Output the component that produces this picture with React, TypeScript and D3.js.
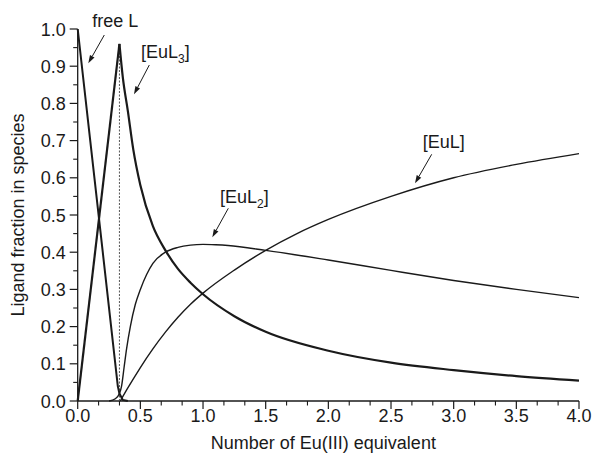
import React from "react";
import * as d3 from "d3";

// ---- data ----
const freeLX = [0, 0.1, 0.2, 0.32, 0.333, 0.36, 0.4];
const freeLY = [1.0, 0.7, 0.4, 0.04, 0.02, 0.003, 0.0];

const euL3X = [0, 0.333, 0.36, 0.4, 0.444, 0.5, 0.6, 0.7, 0.8, 0.9, 1.0, 1.25, 1.5, 2.0, 2.5, 3.0, 3.5, 4.0];
const euL3Y = [0, 0.96, 0.87, 0.78, 0.675, 0.58, 0.47, 0.405, 0.355, 0.318, 0.287, 0.228, 0.186, 0.135, 0.103, 0.083, 0.067, 0.055];

const euL2X = [0.25, 0.3, 0.333, 0.35, 0.37, 0.39, 0.42, 0.46, 0.5, 0.55, 0.6, 0.7, 0.8, 0.9, 1.0, 1.1, 1.2, 1.5, 2.0, 2.5, 3.0, 3.5, 4.0];
const euL2Y = [0.0, 0.006, 0.02, 0.04, 0.09, 0.14, 0.2, 0.26, 0.3, 0.34, 0.37, 0.4, 0.413, 0.419, 0.421, 0.42, 0.418, 0.405, 0.379, 0.351, 0.324, 0.3, 0.278];

const euLX = [0.34, 0.4, 0.5, 0.6, 0.7, 0.8, 0.9, 1.0, 1.25, 1.5, 1.75, 2.0, 2.5, 3.0, 3.5, 4.0];
const euLY = [0.0, 0.035, 0.09, 0.14, 0.185, 0.225, 0.26, 0.29, 0.352, 0.405, 0.45, 0.488, 0.55, 0.6, 0.636, 0.665];

const xTicks = [0, 0.5, 1.0, 1.5, 2.0, 2.5, 3.0, 3.5, 4.0];
const yTicks = [0, 0.1, 0.2, 0.3, 0.4, 0.5, 0.6, 0.7, 0.8, 0.9, 1.0];

const equivX = 0.333;
const equivTop = 0.955;

const W = 594;
const H = 462;
const FONT = "Arial, 'Liberation Sans', Helvetica, sans-serif";
const INK = "#1a1a1a";

export default function App() {
  const x = d3.scaleLinear().domain([0, 4]).range([77.7, 579]);
  const y = d3.scaleLinear().domain([0, 1]).range([401, 29]);

  const mk = (xs: number[], ys: number[]) => xs.map((v, i) => [v, ys[i]] as [number, number]);

  const smooth = d3
    .line<[number, number]>()
    .x((d) => x(d[0]))
    .y((d) => y(d[1]))
    .curve(d3.curveMonotoneX);
  const straight = d3
    .line<[number, number]>()
    .x((d) => x(d[0]))
    .y((d) => y(d[1]));

  const freeL = mk(freeLX, freeLY);
  const eul3 = mk(euL3X, euL3Y);
  const peakIdx = euL3Y.indexOf(d3.max(euL3Y) as number);
  const eul3Rise = eul3.slice(0, peakIdx + 1);
  const eul3Decay = eul3.slice(peakIdx);
  const eul2 = mk(euL2X, euL2Y);
  const eul = mk(euLX, euLY);

  const xMinor: number[] = [];
  for (let i = 0; i < 8; i++) {
    xMinor.push(i * 0.5 + 0.5 / 3, i * 0.5 + 1 / 3);
  }
  const yMinor: number[] = [];
  for (let i = 0; i < 10; i++) yMinor.push(i * 0.1 + 0.05);

  const arrow = (x0: number, y0: number, x1: number, y1: number, key: string) => {
    const ang = Math.atan2(y1 - y0, x1 - x0);
    const L = 8;
    const w = 2.6;
    const bx = x1 - L * Math.cos(ang);
    const by = y1 - L * Math.sin(ang);
    const px = -Math.sin(ang);
    const py = Math.cos(ang);
    return (
      <g key={key}>
        <line x1={x0} y1={y0} x2={bx} y2={by} stroke={INK} strokeWidth={1} />
        <path
          d={`M${x1},${y1}L${bx + px * w},${by + py * w}L${bx - px * w},${by - py * w}Z`}
          fill={INK}
        />
      </g>
    );
  };

  return (
    <svg width={W} height={H} style={{ position: "absolute", left: 0, top: 0, background: "#fff" }}>
      <rect width={W} height={H} fill="#fff" />
      {/* axes */}
      <line x1={x(0)} y1={y(0)} x2={x(4)} y2={y(0)} stroke={INK} strokeWidth={1.3} />
      <line x1={x(0)} y1={y(0)} x2={x(0)} y2={y(1)} stroke={INK} strokeWidth={1.3} />
      {xTicks.map((t) => (
        <g key={"xt" + t}>
          <line x1={x(t)} x2={x(t)} y1={y(0)} y2={y(0) + 8} stroke={INK} strokeWidth={1.2} />
          <text x={x(t)} y={y(0) + 21} textAnchor="middle" fontFamily={FONT} fontSize={18} fill={INK}>
            {t.toFixed(1)}
          </text>
        </g>
      ))}
      {xMinor.map((t, i) => (
        <line key={"xm" + i} x1={x(t)} x2={x(t)} y1={y(0)} y2={y(0) + 4.5} stroke={INK} strokeWidth={1.1} />
      ))}
      {yTicks.map((t) => (
        <g key={"yt" + t}>
          <line x1={x(0) - 8} x2={x(0)} y1={y(t)} y2={y(t)} stroke={INK} strokeWidth={1.2} />
          <text x={x(0) - 12} y={y(t) + 6.5} textAnchor="end" fontFamily={FONT} fontSize={18} fill={INK}>
            {t.toFixed(1)}
          </text>
        </g>
      ))}
      {yMinor.map((t, i) => (
        <line key={"ym" + i} x1={x(0) - 4.5} x2={x(0)} y1={y(t)} y2={y(t)} stroke={INK} strokeWidth={1.1} />
      ))}
      <text x={(x(0) + x(4)) / 2 - 5} y={449} textAnchor="middle" fontFamily={FONT} fontSize={18} fill={INK}>
        Number of Eu(III) equivalent
      </text>
      <text
        transform={`translate(24,${(y(0) + y(1)) / 2}) rotate(-90)`}
        textAnchor="middle"
        fontFamily={FONT}
        fontSize={18}
        fill={INK}
      >
        Ligand fraction in species
      </text>

      {/* dotted equivalence line */}
      <line
        x1={x(equivX)}
        x2={x(equivX)}
        y1={y(0)}
        y2={y(equivTop)}
        stroke="#555"
        strokeWidth={1}
        strokeDasharray="2,1.5"
      />

      {/* curves */}
      <path d={straight(freeL) || ""} fill="none" stroke={INK} strokeWidth={2} />
      <path d={straight(eul3Rise) || ""} fill="none" stroke={INK} strokeWidth={2.2} />
      <path d={smooth(eul3Decay) || ""} fill="none" stroke={INK} strokeWidth={2.2} />
      <path d={smooth(eul2) || ""} fill="none" stroke={INK} strokeWidth={1.4} />
      <path d={smooth(eul) || ""} fill="none" stroke={INK} strokeWidth={1.4} />

      {/* annotations */}
      <text x={92.3} y={26.5} fontFamily={FONT} fontSize={18} fill={INK}>
        free L
      </text>
      {arrow(104.3, 35, 88.3, 63.3, "a1")}

      <text x={141} y={57.5} fontFamily={FONT} fontSize={18} fill={INK}>
        [EuL<tspan fontSize={12} dy={5}>3</tspan>
        <tspan dy={-5}>]</tspan>
      </text>
      {arrow(149.3, 65, 134, 94.3, "a2")}

      <text x={220} y={203} fontFamily={FONT} fontSize={18} fill={INK}>
        [EuL<tspan fontSize={12} dy={5}>2</tspan>
        <tspan dy={-5}>]</tspan>
      </text>
      {arrow(228.3, 208.3, 212.3, 237.3, "a3")}

      <text x={422.7} y={148.3} fontFamily={FONT} fontSize={18} fill={INK}>
        [EuL]
      </text>
      {arrow(431.7, 154.3, 415, 183.3, "a4")}
    </svg>
  );
}
